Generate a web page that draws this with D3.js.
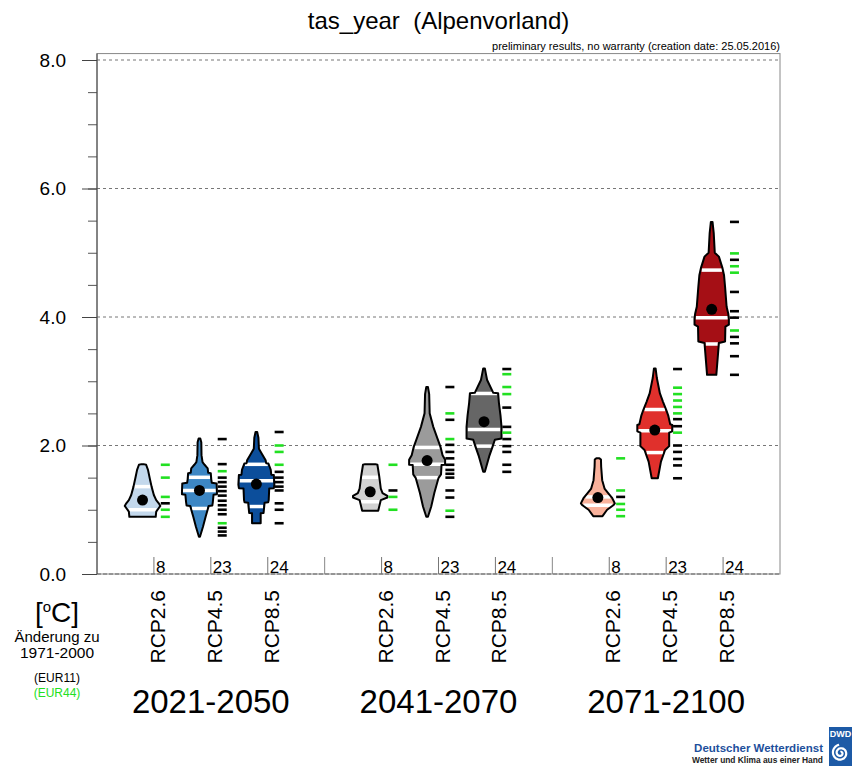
<!DOCTYPE html>
<html>
<head>
<meta charset="utf-8">
<script src="https://cdn.jsdelivr.net/npm/d3@7"></script>
<style>
  body { margin: 0; background: #fff; }
  svg { display: block; font-family: "Liberation Sans", Arial, sans-serif; }
</style>
</head>
<body>
<svg id="chart" width="852" height="770"></svg>
<script>
// ---- data ----
const periods = ["2021-2050", "2041-2070", "2071-2100"];
const scenarios = ["RCP2.6", "RCP4.5", "RCP8.5"];
const modelCounts = [8, 23, 24];
const yTicks = [0, 2, 4, 6, 8];
const yMinorTicks = [0.5, 1, 1.5, 2, 2.5, 3, 3.5, 4, 4.5, 5, 5.5, 6, 6.5, 7, 7.5, 8];

// violin outlines: [change in degC, relative density], top to bottom
const profiles = [
  [[1.71,1],[1.70,3.5],[1.62,5.3],[1.49,7],[1.36,8.8],[1.23,11],[1.15,13.3],[1.10,15.8],[1.06,17.3],[1.02,15.5],[0.97,13.3],[0.89,12.8]],
  [[2.11,0.8],[2.05,1.8],[1.85,2],[1.74,3],[1.70,5],[1.645,8],[1.575,8.5],[1.57,11],[1.47,11.5],[1.42,12],[1.41,16.7],[1.28,17],[1.24,17],[1.235,13.7],[1.12,13],[1.065,12.5],[1.06,9],[0.89,6],[0.74,3.5],[0.58,0.5]],
  [[2.21,0.8],[2.12,2],[1.95,2.5],[1.88,5],[1.77,9],[1.725,9.5],[1.72,11.7],[1.62,14],[1.545,14.5],[1.54,17],[1.39,17.5],[1.335,17],[1.33,12.5],[1.15,12],[1.115,11.5],[1.11,8],[0.95,7],[0.945,4.2],[0.79,4.2]],
  [[1.71,5],[1.70,7],[1.52,8.8],[1.33,10.3],[1.26,12],[1.215,16.7],[1.19,16.7],[1.15,10.3],[0.985,7.8]],
  [[2.91,0.8],[2.80,2],[2.50,2.5],[2.29,6],[2.11,10],[1.98,13],[1.85,15],[1.78,17.5],[1.70,17.5],[1.695,14],[1.55,13.5],[1.49,11],[1.26,7],[1.05,4],[0.89,0.8]],
  [[3.20,0.8],[3.10,2],[3.02,3],[2.82,9],[2.815,13.7],[2.66,14.5],[2.47,16],[2.29,17],[2.11,17],[2.09,10.5],[1.99,8.5],[1.83,5],[1.59,0.8]],
  [[1.80,1.5],[1.78,3],[1.67,3.2],[1.46,4.2],[1.33,6.5],[1.26,10],[1.18,14],[1.10,16.5],[1.07,15],[1.00,9],[0.90,4.5]],
  [[3.20,0.8],[3.05,2],[2.81,5],[2.68,8],[2.56,11],[2.47,13],[2.33,15],[2.32,17],[2.22,17],[2.20,14],[1.99,14],[1.93,10],[1.75,6],[1.49,3]],
  [[5.48,0.8],[5.30,2],[5.00,3],[4.94,7],[4.76,10.5],[4.65,12],[4.47,13],[4.16,14.5],[4.06,16],[3.98,16.7],[3.88,16.7],[3.85,13.3],[3.62,13],[3.595,7],[3.10,4.5]]
];

// white percentile lines inside each violin
const percentiles = [
  [1.36, 1.00],
  [1.505, 1.30, 1.02],
  [1.707, 1.45, 1.05],
  [1.505, 1.125],
  [1.97, 1.71, 1.50],
  [2.81, 2.25, 1.99],
  [1.20, 1.07],
  [2.56, 2.23, 1.89],
  [4.73, 3.99, 3.58]
];

// ensemble mean (black dot)
const means = [1.15, 1.30, 1.40, 1.28, 1.765, 2.37, 1.19, 2.24, 4.12];

// single model results: EUR11 (black) and EUR44 (green)
const eur11 = [
  [1.10],
  [2.10, 1.71, 1.50, 1.43, 1.36, 1.29, 1.22, 1.14, 1.07, 1.00, 0.93, 0.72, 0.66, 0.60],
  [2.21, 1.59, 1.50, 1.43, 1.36, 1.30, 1.10, 1.00, 0.79],
  [1.30],
  [2.91, 2.40, 2.01, 1.90, 1.80, 1.70, 1.62, 1.56, 1.50, 1.30, 1.19, 0.89],
  [3.19, 2.59, 2.29, 2.10, 1.99, 1.90, 1.70, 1.59],
  [1.20],
  [3.19, 2.41, 2.30, 2.00, 1.90, 1.79, 1.69, 1.49],
  [5.48, 4.89, 4.39, 4.09, 3.99, 3.69, 3.59, 3.39, 3.10]
];
const eur44 = [
  [1.70, 1.50, 1.20, 1.00, 0.89],
  [1.60, 0.79],
  [2.00, 1.90, 1.70],
  [1.70, 1.20, 1.00],
  [2.50, 2.10, 0.985],
  [3.11, 2.91, 2.80, 2.20],
  [1.80, 1.30, 1.09, 1.00, 0.90],
  [2.90, 2.80, 2.70, 2.60, 2.50, 2.20],
  [4.99, 4.79, 4.69, 3.79]
];

// ---- styles ----
const fills = [
  ["#c3d8ec", "#3d87c4", "#0c4e9b"],
  ["#d2d2d2", "#9b9b9b", "#666666"],
  ["#f9b29c", "#e0302c", "#a50f15"]
];
const green = "#22e022";

const svg = d3.select("#chart");
const left = 97, right = 780, bottom = 574;

// slot units: 4 per period, scenarios sit at 1,2,3
const x = d3.scaleLinear().domain([0, periods.length * 4]).range([left, right]);
const y = d3.scaleLinear().domain([0, 8]).range([bottom, 60]);
const allDens = d3.merge(profiles).map(d => d[1]);
const w = d3.scaleLinear().domain([0, d3.max(allDens)]).range([0, 18]);

// title
svg.append("text")
  .attr("x", (left + right) / 2).attr("y", 29)
  .attr("text-anchor", "middle")
  .style("font-size", "24px").style("white-space", "pre")
  .text("tas_year  (Alpenvorland)");
svg.append("text")
  .attr("x", right).attr("y", 50)
  .attr("text-anchor", "end")
  .style("font-size", "11px")
  .text("preliminary results, no warranty (creation date: 25.05.2016)");

// grid lines
svg.append("g")
  .selectAll("line")
  .data(yTicks.filter(d => d > 0))
  .enter()
  .append("line")
  .attr("x1", left).attr("x2", right)
  .attr("y1", d => y(d)).attr("y2", d => y(d))
  .attr("stroke", "#777")
  .attr("stroke-dasharray", "3,3");

// frame
svg.append("rect")
  .attr("x", left).attr("y", y(8.1))
  .attr("width", right - left).attr("height", bottom - y(8.1))
  .attr("fill", "none").attr("stroke", "#888");
svg.append("line")
  .attr("x1", left).attr("x2", right)
  .attr("y1", bottom).attr("y2", bottom)
  .attr("stroke", "#666").attr("stroke-dasharray", "4,2");

// y axis
const yAxisMinor = d3.axisLeft(y).tickValues(yMinorTicks).tickSize(9).tickFormat("");
svg.append("g")
  .attr("transform", "translate(" + left + ",0)")
  .call(yAxisMinor)
  .call(g => g.select(".domain").remove())
  .selectAll("line").attr("stroke", "#555");
const yAxis = d3.axisLeft(y).tickValues(yTicks).tickSize(15).tickPadding(16)
  .tickFormat(d3.format(".1f"));
const yg = svg.append("g")
  .attr("transform", "translate(" + left + ",0)")
  .call(yAxis);
yg.select(".domain").attr("stroke", "#444").attr("d", "M0," + y(8.1) + "V" + bottom);
yg.selectAll(".tick line").attr("stroke", "#444");
yg.selectAll(".tick text")
  .style("font-size", "19px")
  .style("font-family", "'Liberation Sans', Arial, sans-serif")
  .attr("fill", "#000");

// period separators
svg.append("g")
  .selectAll("line")
  .data([1, 2])
  .enter()
  .append("line")
  .attr("x1", d => x(d * 4)).attr("x2", d => x(d * 4))
  .attr("y1", bottom - 17).attr("y2", bottom)
  .attr("stroke", "#888");

function widthAt(profile, v) {
  for (let i = 0; i < profile.length - 1; i++) {
    const a = profile[i], b = profile[i + 1];
    if (v <= a[0] && v >= b[0]) {
      const t = (a[0] - v) / (a[0] - b[0] || 1);
      return a[1] + t * (b[1] - a[1]);
    }
  }
  return profile[profile.length - 1][1];
}

const area = d3.area()
  .y(d => y(d[0]))
  .x0(d => -w(d[1]))
  .x1(d => w(d[1]));

const violins = [];
periods.forEach((p, g) => {
  scenarios.forEach((s, k) => {
    violins.push({ g, k, i: g * 3 + k, pos: g * 4 + k + 1 });
  });
});

const vg = svg.append("g")
  .selectAll("g")
  .data(violins)
  .enter()
  .append("g");

// violin body
vg.append("path")
  .attr("transform", d => "translate(" + x(d.pos - 0.2) + ",0)")
  .attr("d", d => area(profiles[d.i]))
  .attr("fill", d => fills[d.g][d.k]);

// percentile lines
vg.each(function (d) {
  d3.select(this).append("g")
    .attr("transform", "translate(" + x(d.pos - 0.2) + ",0)")
    .selectAll("line")
    .data(percentiles[d.i])
    .enter()
    .append("line")
    .attr("x1", v => -w(widthAt(profiles[d.i], v)) + 1)
    .attr("x2", v => w(widthAt(profiles[d.i], v)) - 1)
    .attr("y1", v => y(v)).attr("y2", v => y(v))
    .attr("stroke", "#fff").attr("stroke-width", 3.5);
});

// outline on top
vg.append("path")
  .attr("transform", d => "translate(" + x(d.pos - 0.2) + ",0)")
  .attr("d", d => area(profiles[d.i]))
  .attr("fill", "none")
  .attr("stroke", "#000")
  .attr("stroke-width", 2)
  .attr("stroke-linejoin", "round");

// mean dot
vg.append("circle")
  .attr("cx", d => x(d.pos - 0.2))
  .attr("cy", d => y(means[d.i]))
  .attr("r", 5.5)
  .attr("fill", "#000");

// single model dashes
function dashes(sel, list, color) {
  sel.each(function (d) {
    d3.select(this).append("g")
      .selectAll("line")
      .data(list[d.i])
      .enter()
      .append("line")
      .attr("x1", x(d.pos + 0.2) - 4.5).attr("x2", x(d.pos + 0.2) + 4.5)
      .attr("y1", v => y(v)).attr("y2", v => y(v))
      .attr("stroke", color).attr("stroke-width", 2.6);
  });
}
dashes(vg, eur44, green);
dashes(vg, eur11, "#000");

// model counts
vg.append("line")
  .attr("x1", d => x(d.pos)).attr("x2", d => x(d.pos))
  .attr("y1", bottom - 17).attr("y2", bottom)
  .attr("stroke", "#777");
vg.append("text")
  .attr("x", d => x(d.pos) + 2).attr("y", bottom - 1)
  .style("font-size", "17px")
  .text(d => modelCounts[d.k]);

// scenario labels
vg.append("text")
  .attr("transform", d => "translate(" + (x(d.pos) + 11) + ",590) rotate(-90)")
  .attr("text-anchor", "end")
  .style("font-size", "21px")
  .text(d => scenarios[d.k]);

// period labels
svg.append("g")
  .selectAll("text")
  .data(periods)
  .enter()
  .append("text")
  .attr("x", (d, g) => x(g * 4 + 2))
  .attr("y", 713)
  .attr("text-anchor", "middle")
  .style("font-size", "33px")
  .text(d => d);

// unit legend on the left
const lg = svg.append("g").attr("text-anchor", "middle");
const unit = lg.append("text").attr("x", 57).attr("y", 622).style("font-size", "28px");
unit.append("tspan").text("[");
unit.append("tspan").attr("dy", -10).style("font-size", "15px").text("o");
unit.append("tspan").attr("dy", 10).text("C]");
lg.append("text").attr("x", 57).attr("y", 642).style("font-size", "15px").text("Änderung zu");
lg.append("text").attr("x", 57).attr("y", 658).style("font-size", "15.5px").text("1971-2000");
lg.append("text").attr("x", 57).attr("y", 682).style("font-size", "12px").text("(EUR11)");
lg.append("text").attr("x", 57).attr("y", 697).style("font-size", "12px")
  .attr("fill", green).text("(EUR44)");

// DWD logo
const logo = svg.append("g");
logo.append("text")
  .attr("x", 823).attr("y", 752)
  .attr("text-anchor", "end")
  .style("font-size", "11.5px").style("font-weight", "bold")
  .attr("fill", "#1d4f9c")
  .text("Deutscher Wetterdienst");
logo.append("text")
  .attr("x", 823).attr("y", 763)
  .attr("text-anchor", "end")
  .style("font-size", "8.4px").style("font-weight", "bold")
  .attr("fill", "#222")
  .text("Wetter und Klima aus einer Hand");
logo.append("rect")
  .attr("x", 829).attr("y", 727).attr("width", 23).attr("height", 39)
  .attr("fill", "#1d5aa6");
logo.append("text")
  .attr("x", 840.5).attr("y", 737)
  .attr("text-anchor", "middle")
  .style("font-size", "9px").style("font-weight", "bold")
  .attr("fill", "#fff")
  .text("DWD");
const spiral = d3.lineRadial()
  .angle(t => t)
  .radius(t => 1 + t * 0.6)
  .curve(d3.curveBasis);
logo.append("path")
  .attr("transform", "translate(840.5,753)")
  .attr("d", spiral(d3.range(0, 4 * Math.PI, 0.2)))
  .attr("fill", "none")
  .attr("stroke", "#fff")
  .attr("stroke-width", 2.2);
</script>
</body>
</html>
